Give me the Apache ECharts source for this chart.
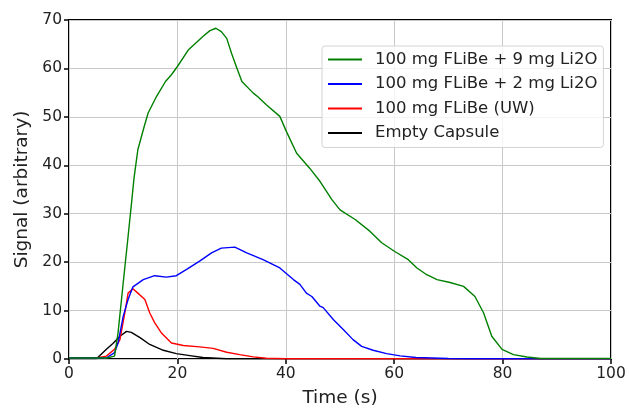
<!DOCTYPE html>
<html>
<head>
<meta charset="utf-8">
<script src="https://cdn.jsdelivr.net/npm/echarts@6/dist/echarts.min.js"></script>
<style>
  html, body { margin: 0; padding: 0; background: #fff; }
  #main { width: 629px; height: 408px; }
</style>
</head>
<body>
<div id="main"></div>
<script>
// values
var greenT = [0, 5, 7, 8.4, 9.05, 10.0, 10.9, 11.6, 12.0, 12.7, 13.9, 14.6, 16.0, 17.8, 18.9, 20.0, 22.0, 24.7, 26.0, 27.1, 28.1, 29.1, 30.0, 31.0, 31.9, 34.0, 34.9, 36.4, 38.9, 40.1, 42.0, 44.4, 46.3, 48.5, 50.0, 52.8, 55.5, 57.7, 60.1, 62.6, 64.2, 66.0, 67.9, 70.3, 72.8, 74.9, 76.5, 78.0, 79.9, 82.0, 84.5, 87, 100];
var greenS = [0.2, 0.2, 0.2, 0.6, 5.4, 15.7, 25.3, 32.9, 37.4, 43.2, 48.1, 50.8, 53.9, 57.3, 58.7, 60.4, 63.8, 66.6, 67.8, 68.3, 67.6, 66.2, 63.1, 60.0, 57.3, 54.9, 54.1, 52.5, 50.1, 47.0, 42.5, 39.4, 36.7, 32.9, 30.8, 28.8, 26.4, 24.0, 22.2, 20.5, 18.8, 17.4, 16.4, 15.8, 15.0, 12.9, 9.5, 4.7, 2.0, 0.9, 0.4, 0.1, 0.1];

var blueT = [0, 5, 6.9, 8.4, 9.05, 10.0, 10.9, 11.8, 13.7, 15.8, 18.0, 19.8, 21.7, 24.1, 26.3, 28.1, 30.6, 32.8, 35.8, 38.9, 41.4, 42.6, 43.8, 44.8, 46.3, 46.9, 48.8, 50.6, 52.4, 54.0, 56.1, 58.6, 61.1, 64, 70, 74, 100];
var blueS = [0.2, 0.2, 0.2, 1.3, 3.3, 8.8, 12.3, 14.9, 16.4, 17.2, 16.9, 17.2, 18.5, 20.2, 21.9, 22.9, 23.1, 21.9, 20.5, 18.8, 16.4, 15.4, 13.6, 12.9, 10.9, 10.6, 8.1, 6.1, 4.0, 2.6, 1.8, 1.1, 0.65, 0.3, 0.1, 0.05, 0.05];

var redT = [0, 5.1, 6.9, 8.4, 9.4, 10.3, 10.9, 11.8, 12.7, 14.0, 14.9, 15.8, 17.1, 18.9, 21.1, 24.1, 26.6, 29.1, 31.5, 34.0, 36.4, 40, 100];
var redS = [0.2, 0.2, 0.6, 2.0, 4.0, 9.5, 13.6, 14.5, 13.6, 12.3, 9.5, 7.5, 5.3, 3.3, 2.8, 2.5, 2.2, 1.4, 0.9, 0.45, 0.15, 0.05, 0.05];

var blackT = [0, 5.1, 5.7, 6.9, 8.1, 9.4, 10.6, 11.5, 13.1, 14.9, 17.4, 19.8, 22.3, 24.7, 29, 100];
var blackS = [0.1, 0.1, 0.7, 2.0, 3.2, 4.7, 5.7, 5.5, 4.4, 3.0, 1.8, 1.1, 0.7, 0.3, 0.05, 0.05];

var seriesNames = ['100 mg FLiBe + 9 mg Li2O', '100 mg FLiBe + 2 mg Li2O', '100 mg FLiBe (UW)', 'Empty Capsule'];
var seriesColors = ['#008000', '#0000ff', '#ff0000', '#000000'];

function pairs(t, s) {
    var out = [];
    for (var i = 0; i < t.length; i++) out.push([t[i], s[i]]);
    return out;
}

var allData = [pairs(greenT, greenS), pairs(blueT, blueS), pairs(redT, redS), pairs(blackT, blackS)];

var font = 'DejaVu Sans';
var myChart = echarts.init(document.getElementById('main'));

var option = {
    animation: false,
    backgroundColor: '#fff',
    grid: {
        left: 69, right: 18, top: 20, bottom: 49,
        outerBoundsMode: 'none',
        containLabel: false,
        show: true, borderColor: '#000', borderWidth: 2
    },
    legend: {
        orient: 'vertical',
        left: 322, top: 46,
        padding: [4, 6, 5, 6],
        itemGap: 5.5,
        itemWidth: 34, itemHeight: 2,
        icon: 'rect',
        borderColor: '#d4d4d4', borderWidth: 1, borderRadius: 3,
        backgroundColor: 'rgba(255,255,255,0.8)',
        textStyle: { fontFamily: font, fontSize: 16.5, lineHeight: 19, color: '#222', padding: [0, 0, 0, 8] },
        data: seriesNames
    },
    xAxis: {
        type: 'value', min: 0, max: 100, interval: 20,
        name: 'Time (s)', nameLocation: 'middle', nameGap: 30,
        nameTextStyle: { fontFamily: font, fontSize: 18.5, color: '#222' },
        axisLine: { show: false },
        axisTick: { show: true, length: 5, lineStyle: { color: '#000', width: 1.5 } },
        axisLabel: { fontFamily: font, fontSize: 15.5, color: '#222', margin: 7 },
        splitLine: { show: true, lineStyle: { color: '#c8c8c8', width: 1 } }
    },
    yAxis: {
        type: 'value', min: 0, max: 70, interval: 10,
        name: 'Signal (arbitrary)', nameLocation: 'middle', nameGap: 37,
        nameTextStyle: { fontFamily: font, fontSize: 18.5, color: '#222' },
        axisLine: { show: false },
        axisTick: { show: true, length: 5, lineStyle: { color: '#000', width: 1.5 } },
        axisLabel: { fontFamily: font, fontSize: 15.5, color: '#222', margin: 7 },
        splitLine: { show: true, lineStyle: { color: '#c8c8c8', width: 1 } }
    },
    series: seriesNames.map(function (name, i) {
        return {
            name: name,
            type: 'line',
            data: allData[i],
            showSymbol: false,
            symbol: 'none',
            color: seriesColors[i],
            lineStyle: { width: 1.4, color: seriesColors[i] },
            z: 10 - i
        };
    })
};

myChart.setOption(option);
</script>
</body>
</html>
